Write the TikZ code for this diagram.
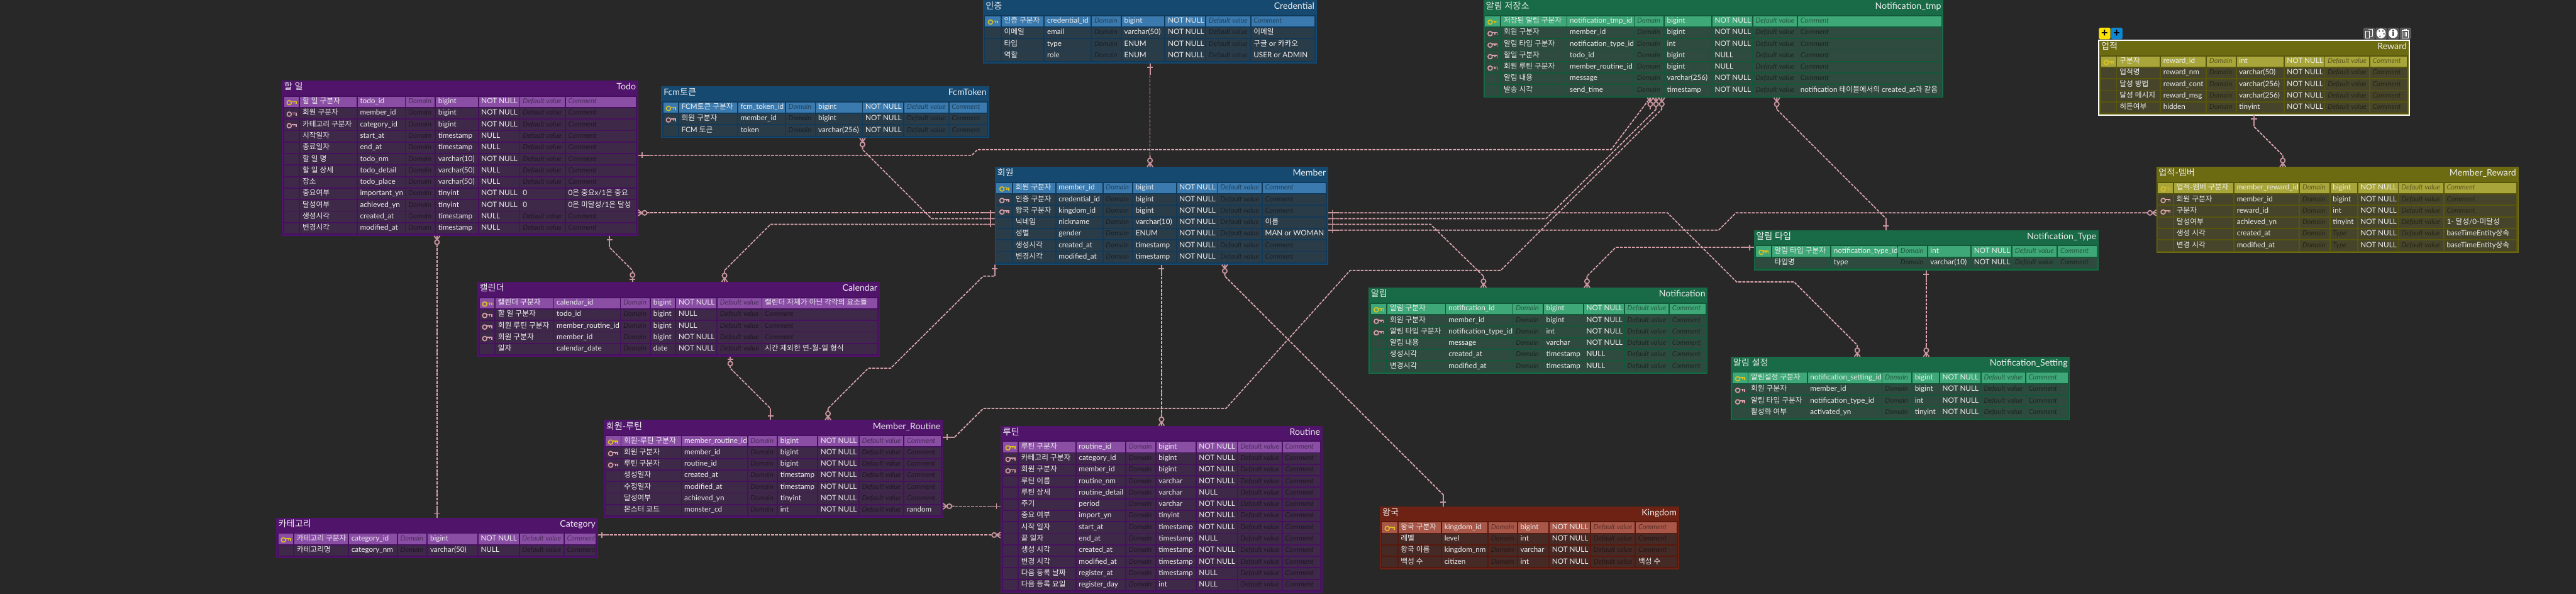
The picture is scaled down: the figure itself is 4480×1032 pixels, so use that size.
\documentclass[tikz,border=0pt]{standalone}
\usepackage{fontspec}
\setmainfont{Lato}
\newfontfamily\krfont{Noto Sans CJK KR}
\usetikzlibrary{calc}

% hangul goes to the CJK family
\XeTeXinterchartokenstate=1
\newXeTeXintercharclass\krclass
\newcount\krcode
\krcode="AC00
\loop
  \XeTeXcharclass\krcode=\krclass
  \advance\krcode 1
\ifnum\krcode<"D7A4 \repeat
\XeTeXinterchartoks 0 \krclass={\begingroup\krfont}
\XeTeXinterchartoks 4095 \krclass={\begingroup\krfont}
\XeTeXinterchartoks \krclass 0={\endgroup}
\XeTeXinterchartoks \krclass 4095={\endgroup}

\definecolor{bgdark}{HTML}{282828}
\definecolor{relpink}{HTML}{E2AAB4}
\definecolor{markpink}{HTML}{C8959F}
\definecolor{pkgold}{HTML}{DCC020}
\definecolor{fkpink}{HTML}{D8A0A8}
\definecolor{cellwhite}{HTML}{EEEEEE}

\definecolor{bluehd}{HTML}{154970}
\definecolor{bluegap}{HTML}{113A5A}
\definecolor{bluerow}{HTML}{2B3C49}
\definecolor{bluepk}{HTML}{3A7AAE}
\definecolor{purplehd}{HTML}{50146B}
\definecolor{purplegap}{HTML}{46105F}
\definecolor{purplerow}{HTML}{3E2948}
\definecolor{purplepk}{HTML}{8A4FA5}
\definecolor{greenhd}{HTML}{186B46}
\definecolor{greengap}{HTML}{125839}
\definecolor{greenrow}{HTML}{2F4A3E}
\definecolor{greenpk}{HTML}{3FA878}
\definecolor{olivehd}{HTML}{6D6B12}
\definecolor{olivegap}{HTML}{58560C}
\definecolor{oliverow}{HTML}{46452B}
\definecolor{olivepk}{HTML}{A8A53A}
\definecolor{redhd}{HTML}{6D2214}
\definecolor{redgap}{HTML}{58180C}
\definecolor{redrow}{HTML}{462A26}
\definecolor{redpk}{HTML}{A85748}

\tikzset{
  tablebox/.style={anchor=north west, inner sep=0pt, outer sep=0pt},
  titletext/.style={anchor=base west, inner sep=0pt, text=cellwhite, font=\fontsize{15.5}{18}\selectfont},
  celltext/.style={anchor=base west, inner sep=0pt, text=cellwhite, font=\fontsize{12.8}{16}\selectfont},
  holdtext/.style={anchor=base west, inner sep=0pt, text=black, text opacity=0.45, font=\fontsize{12.2}{16}\selectfont\itshape},
  relline/.style={draw=relpink, line width=1.8pt, dash pattern=on 5pt off 2pt},
  markline/.style={draw=markpink, line width=2pt, solid},
  iconbtn/.style={minimum width=20pt, minimum height=20pt, inner sep=0pt, rounded corners=2pt, anchor=north west},
  keyicon/.pic={
    \draw[line width=1.8pt, pic actions] (-4,0.5) circle[radius=3.8];
    \draw[line width=1.8pt, pic actions] (0,-1.5) -- (8,-1.5) -- (8,3) (4.5,-1.5) -- (4.5,2);
  },
  onemark/.pic={
    \draw[markline] (0,0) -- (20,0) (7,-5) -- (7,5);
  },
  manymark/.pic={
    \draw[markline] (0,-5) -- (7,0) -- (0,5) (0,0) -- (7,0) (15,0) -- (20,0);
    \draw[markline, fill=bgdark] (11,0) circle[radius=4];
  },
  zeromark/.pic={
    \draw[markline] (0,0) -- (7,0) (4.5,-5) -- (4.5,5) (16,0) -- (20,0);
    \draw[markline, fill=bgdark] (12,0) circle[radius=4];
  },
}

\def\dashmark{-}
\def\keyp{p}
\def\keyn{n}
\def\setcols#1,#2,#3,#4,#5,#6,#7,#8,#9;{\def\colA{#1}\def\colB{#2}\def\colC{#3}\def\colD{#4}\def\colE{#5}\def\colF{#6}\def\colG{#7}\def\colH{#8}\def\colI{#9}}
\newcommand{\cellnode}[4]{\ifx#3\dashmark\node[holdtext] (#1) at (#2) {#4};\else\node[celltext] (#1) at (#2) {#3};\fi}

% id, position, width, rows, colour, korean title, table name, column starts, rows
\newcommand{\erdtable}[9]{
  \begin{scope}[shift={(#2)}]
    \setcols#8;
    \node[tablebox, fill=#5hd, minimum width=#3pt, minimum height={(30+20*#4)*1pt}] (#1) at (0,0) {};
    \fill[#5gap] (2,26) rectangle (#3-2,{28+20*#4});
    \node[titletext] (#1-kr) at (4,16) {#6};
    \node[titletext, anchor=base east] (#1-en) at (#3-4,16) {#7};
    \foreach \ckey/\ckr/\cen/\ctype/\cnull/\cdef/\ccom [count=\r] in {#9} {
      \pgfmathsetmacro\ry{7+20*\r}
      \ifx\ckey\keyp\def\cellcol{#5pk}\else\def\cellcol{#5row}\fi
      \foreach \ca/\cb in {\colA/\colB,\colB/\colC,\colC/\colD,\colD/\colE,\colE/\colF,\colF/\colG,\colG/\colH,\colH/\colI}
        \fill[fill=\cellcol] (\ca,\ry+1) rectangle (\cb-2,\ry+19);
      \ifx\ckey\keyn\else
        \ifx\ckey\keyp\def\keycol{pkgold}\else\def\keycol{fkpink}\fi
        \pic[draw=\keycol] at ({(\colA+\colB-2)/2},\ry+11) {keyicon};
      \fi
      \node[celltext] (#1-\r-kr) at (\colB+4,\ry+13) {\ckr};
      \node[celltext] (#1-\r-en) at (\colC+4,\ry+13) {\cen};
      \node[holdtext] (#1-\r-dom) at (\colD+4,\ry+13) {Domain};
      \cellnode{#1-\r-type}{\colE+4,\ry+13}{\ctype}{Type}
      \node[celltext] (#1-\r-null) at (\colF+4,\ry+13) {\cnull};
      \cellnode{#1-\r-def}{\colG+4,\ry+13}{\cdef}{Default value}
      \cellnode{#1-\r-com}{\colH+4,\ry+13}{\ccom}{Comment}
    }
  \end{scope}
}

\begin{document}
\begin{tikzpicture}[x=1pt,y=-1pt]
  \useasboundingbox (0,0) rectangle (4480,1032);
  \fill[bgdark] (0,0) rectangle (4480,1032);

  \erdtable{credential}{1710,0}{580}{4}{blue}{인증}{Credential}{3,32,107,189,241,317,388,466,578}{
    p/인증 구분자/credential\_id/bigint/NOT NULL/-/-,
    n/이메일/email/varchar(50)/NOT NULL/-/이메일,
    n/타입/type/ENUM/NOT NULL/-/구글 or 카카오,
    n/역할/role/ENUM/NOT NULL/-/USER or ADMIN}

  \erdtable{member}{1730,290}{580}{7}{blue}{회원}{Member}{3,32,107,189,241,317,388,466,578}{
    p/회원 구분자/member\_id/bigint/NOT NULL/-/-,
    f/인증 구분자/credential\_id/bigint/NOT NULL/-/-,
    f/왕국 구분자/kingdom\_id/bigint/NOT NULL/-/-,
    n/닉네임/nickname/varchar(10)/NOT NULL/-/이름,
    n/성별/gender/ENUM/NOT NULL/-/MAN or WOMAN,
    n/생성시각/created\_at/timestamp/NOT NULL/-/-,
    n/변경시각/modified\_at/timestamp/NOT NULL/-/-}

  \erdtable{fcmtoken}{1150,150}{570}{3}{blue}{Fcm토큰}{FcmToken}{4,31,134,217,269,351,423,501,568}{
    p/FCM토큰 구분자/fcm\_token\_id/bigint/NOT NULL/-/-,
    f/회원 구분자/member\_id/bigint/NOT NULL/-/-,
    n/FCM 토큰/token/varchar(256)/NOT NULL/-/-}

  \erdtable{todo}{490,140}{620}{12}{purple}{할 일}{Todo}{4,32,132,216,268,343,415,494,618}{
    p/할 일 구분자/todo\_id/bigint/NOT NULL/-/-,
    f/회원 구분자/member\_id/bigint/NOT NULL/-/-,
    f/카테고리 구분자/category\_id/bigint/NOT NULL/-/-,
    n/시작일자/start\_at/timestamp/NULL/-/-,
    n/종료일자/end\_at/timestamp/NULL/-/-,
    n/할 일 명/todo\_nm/varchar(10)/NOT NULL/-/-,
    n/할 일 상세/todo\_detail/varchar(50)/NULL/-/-,
    n/장소/todo\_place/varchar(50)/NULL/-/-,
    n/중요여부/important\_yn/tinyint/NOT NULL/0/{0은 중요x/1은 중요},
    n/달성여부/achieved\_yn/tinyint/NOT NULL/0/{0은 미달성/1은 달성},
    n/생성시각/created\_at/timestamp/NULL/-/-,
    n/변경시각/modified\_at/timestamp/NULL/-/-}

  \erdtable{calendar}{830,490}{700}{5}{purple}{캘린더}{Calendar}{4,32,134,250,302,346,418,496,698}{
    p/캘린더 구분자/calendar\_id/bigint/NOT NULL/-/캘린더 자체가 아닌 각각의 요소들,
    f/할 일 구분자/todo\_id/bigint/NULL/-/-,
    f/회원 루틴 구분자/member\_routine\_id/bigint/NULL/-/-,
    f/회원 구분자/member\_id/bigint/NOT NULL/-/-,
    n/일자/calendar\_date/date/NOT NULL/-/시간 제외한 연-월-일 형식}

  \erdtable{memberroutine}{1050,730}{590}{7}{purple}{회원-루틴}{Member\_Routine}{3,31,136,251,303,373,445,523,588}{
    p/회원-루틴 구분자/member\_routine\_id/bigint/NOT NULL/-/-,
    f/회원 구분자/member\_id/bigint/NOT NULL/-/-,
    f/루틴 구분자/routine\_id/bigint/NOT NULL/-/-,
    n/생성일자/created\_at/timestamp/NOT NULL/-/-,
    n/수정일자/modified\_at/timestamp/NOT NULL/-/-,
    n/달성여부/achieved\_yn/tinyint/NOT NULL/-/-,
    n/몬스터 코드/monster\_cd/int/NOT NULL/-/random}

  \erdtable{category}{480,900}{560}{2}{purple}{카테고리}{Category}{4,32,127,212,264,352,424,502,558}{
    p/카테고리 구분자/category\_id/bigint/NOT NULL/-/-,
    n/카테고리명/category\_nm/varchar(50)/NULL/-/-}

  \erdtable{routine}{1740,740}{560}{13}{purple}{루틴}{Routine}{4,32,132,219,271,341,413,491,558}{
    p/루틴 구분자/routine\_id/bigint/NOT NULL/-/-,
    f/카테고리 구분자/category\_id/bigint/NOT NULL/-/-,
    f/회원 구분자/member\_id/bigint/NOT NULL/-/-,
    n/루틴 이름/routine\_nm/varchar/NOT NULL/-/-,
    n/루틴 상세/routine\_detail/varchar/NULL/-/-,
    n/주기/period/varchar/NOT NULL/-/-,
    n/중요 여부/import\_yn/tinyint/NOT NULL/-/-,
    n/시작 일자/start\_at/timestamp/NOT NULL/-/-,
    n/끝 일자/end\_at/timestamp/NULL/-/-,
    n/생성 시각/created\_at/timestamp/NOT NULL/-/-,
    n/변경 시각/modified\_at/timestamp/NOT NULL/-/-,
    n/다음 등록 날짜/register\_at/timestamp/NULL/-/-,
    n/다음 등록 요일/register\_day/int/NULL/-/-}

  \erdtable{kingdom}{2400,880}{520}{4}{red}{왕국}{Kingdom}{3,32,108,189,240,295,367,445,518}{
    p/왕국 구분자/kingdom\_id/bigint/NOT NULL/-/-,
    n/레벨/level/int/NOT NULL/-/-,
    n/왕국 이름/kingdom\_nm/varchar/NOT NULL/-/-,
    n/백성 수/citizen/int/NOT NULL/-/백성 수}

  \erdtable{notiftmp}{2580,0}{800}{7}{green}{알림 저장소}{Notification\_tmp}{2,31,146,263,315,398,469,547,798}{
    p/저장된 알림 구분자/notification\_tmp\_id/bigint/NOT NULL/-/-,
    f/회원 구분자/member\_id/bigint/NOT NULL/-/-,
    f/알림 타입 구분자/notification\_type\_id/int/NOT NULL/-/-,
    f/할일 구분자/todo\_id/bigint/NULL/-/-,
    f/회원 루틴 구분자/member\_routine\_id/bigint/NULL/-/-,
    n/알림 내용/message/varchar(256)/NOT NULL/-/-,
    n/발송 시각/send\_time/timestamp/NOT NULL/-/notification 테이블에서의 created\_at과 같음}

  \erdtable{notif}{2380,500}{590}{6}{green}{알림}{Notification}{4,33,135,252,305,375,446,524,588}{
    p/알림 구분자/notification\_id/bigint/NOT NULL/-/-,
    f/회원 구분자/member\_id/bigint/NOT NULL/-/-,
    f/알림 타입 구분자/notification\_type\_id/int/NOT NULL/-/-,
    n/알림 내용/message/varchar/NOT NULL/-/-,
    n/생성시각/created\_at/timestamp/NULL/-/-,
    n/변경시각/modified\_at/timestamp/NULL/-/-}

  \erdtable{notiftype}{3050,400}{600}{2}{green}{알림 타입}{Notification\_Type}{4,32,135,251,303,379,450,529,598}{
    p/알림 타입 구분자/notification\_type\_id/int/NOT NULL/-/-,
    n/타입명/type/varchar(10)/NOT NULL/-/-}

  \erdtable{notifset}{3010,620}{590}{4}{green}{알림 설정}{Notification\_Setting}{3,31,134,264,316,364,436,514,588}{
    p/알림설정 구분자/notification\_setting\_id/bigint/NOT NULL/-/-,
    f/회원 구분자/member\_id/bigint/NOT NULL/-/-,
    f/알림 타입 구분자/notification\_type\_id/int/NOT NULL/-/-,
    n/활성화 여부/activated\_yn/tinyint/NOT NULL/-/-}

  \erdtable{reward}{3650,70}{540}{5}{olive}{업적}{Reward}{4,32,108,188,240,323,394,472,538}{
    p/구분자/reward\_id/int/NOT NULL/-/-,
    n/업적명/reward\_nm/varchar(50)/NOT NULL/-/-,
    n/달성 방법/reward\_cont/varchar(256)/NOT NULL/-/-,
    n/달성 메시지/reward\_msg/varchar(256)/NOT NULL/-/-,
    n/히든여부/hidden/tinyint/NOT NULL/-/-}

  \erdtable{memberreward}{3750,290}{630}{6}{olive}{업적-멤버}{Member\_Reward}{3,31,136,250,303,351,422,501,628}{
    p/업적-멤버 구분자/member\_reward\_id/bigint/NOT NULL/-/-,
    f/회원 구분자/member\_id/bigint/NOT NULL/-/-,
    f/구분자/reward\_id/int/NOT NULL/-/-,
    n/달성여부/achieved\_yn/tinyint/NOT NULL/-/1- 달성{/}0-미달성,
    n/생성 시각/created\_at/-/NOT NULL/-/baseTimeEntity상속,
    n/변경 시각/modified\_at/-/NOT NULL/-/baseTimeEntity상속}

  % selected table
  \draw[white, line width=2.4pt] (reward.north west) rectangle (reward.south east);
  \node[iconbtn, fill=yellow!85!orange, font=\bfseries\fontsize{20}{20}\selectfont] (btnkey) at (3650,48) {+};
  \node[iconbtn, fill=cyan!70!blue, font=\bfseries\fontsize{20}{20}\selectfont] (btnrow) at (3671,48) {+};
  \node[iconbtn, fill=black!65] (btncopy) at (4110,48) {};
  \node[iconbtn, fill=black!65] (btncolor) at (4131,48) {};
  \node[iconbtn, fill=black!65] (btninfo) at (4152,48) {};
  \node[iconbtn, fill=black!65] (btntrash) at (4173,48) {};
  \draw[white, line width=1.2pt] (4114,54) rectangle (4121,66) (4119,51) -- (4126,51) -- (4126,63) -- (4122,63);
  \fill[white] (4141,58) ellipse[x radius=8, y radius=8.5];
  \fill[black!65] (4138,54) circle[radius=1.5] (4144,54) circle[radius=1.5] (4139,63) circle[radius=1.5] (4146,59) circle[radius=1.5];
  \fill[white] (4162,58) circle[radius=8];
  \node[inner sep=0pt, text=black, font=\bfseries\fontsize{14}{14}\selectfont] (btninfotext) at (4162,58) {i};
  \draw[white, line width=1.2pt] (4177,53) -- (4189,53) (4181,53) -- (4181,51) -- (4185,51) -- (4185,53) (4178,53) rectangle (4188,66) (4181,56) -- (4181,63) (4183,56) -- (4183,63) (4185,56) -- (4185,63);

  % relations
  \draw[relline] ([xshift=290pt]credential.south west) pic[rotate=-90]{onemark} -- ([xshift=270pt]member.north west) pic[rotate=90]{manymark};
  \draw[relline] ([yshift=-130pt]todo.north east) pic{onemark} -- (1690,270) -- (1700,260) -- (2802,260) -- ([xshift=290pt]notiftmp.south west) pic[rotate=-90]{manymark};
  \draw[relline] ([xshift=350pt]fcmtoken.south west) pic[rotate=-90]{manymark} -- (1500,260) -- (1620,380) -- ([yshift=-90pt]member.north west) pic[rotate=180]{onemark};
  \draw[relline] ([yshift=-230pt]todo.north east) pic{manymark} -- ([yshift=-80pt]member.north west) pic[rotate=180]{onemark};
  \draw[relline] ([xshift=430pt]calendar.north west) pic[rotate=90]{manymark} -- (1260,470) -- (1340,390) -- ([yshift=-100pt]member.north west) pic[rotate=180]{onemark};
  \draw[relline] ([xshift=570pt]todo.south west) pic[rotate=-90]{onemark} -- (1060,430) -- (1100,470) -- ([xshift=270pt]calendar.north west) pic[rotate=90]{zeromark};
  \draw[relline] ([xshift=270pt]todo.south west) pic[rotate=-90]{manymark} -- ([xshift=280pt]category.north west) pic[rotate=90]{onemark};
  \draw[relline] ([xshift=440pt]calendar.south west) pic[rotate=-90]{zeromark} -- (1270,640) -- (1340,710) -- ([xshift=290pt]memberroutine.north west) pic[rotate=90]{onemark};
  \draw[relline] ([xshift=390pt]memberroutine.north west) pic[rotate=90]{manymark} -- (1440,710) -- (1510,640) -- (1549,640) -- (1710,480) -- (1730,480) -- (member.south west) pic[rotate=-90]{onemark};
  \draw[relline] ([yshift=-30pt]memberroutine.north east) pic{onemark} -- (1660,760) -- (1710,710) -- (2132,710) -- (2348,470) -- (2610,470) -- (2890,190) -- ([xshift=310pt]notiftmp.south west) pic[rotate=-90]{manymark};
  \draw[relline] ([yshift=-150pt]memberroutine.north east) pic{manymark} -- ([yshift=-140pt]routine.north west) pic[rotate=180]{onemark};
  \draw[relline] ([yshift=-30pt]category.north east) pic{onemark} -- ([yshift=-190pt]routine.north west) pic[rotate=180]{manymark};
  \draw[relline] ([xshift=290pt]member.south west) pic[rotate=-90]{onemark} -- ([xshift=280pt]routine.north west) pic[rotate=90]{manymark};
  \draw[relline] ([xshift=400pt]member.south west) pic[rotate=-90]{manymark} -- (2130,480) -- (2510,860) -- ([xshift=110pt]kingdom.north west) pic[rotate=90]{onemark};
  \draw[relline] ([yshift=-90pt]member.north east) pic{onemark} -- (2689,380) -- (2880,190) -- ([xshift=300pt]notiftmp.south west) pic[rotate=-90]{manymark};
  \draw[relline] ([yshift=-100pt]member.north east) pic{onemark} -- (2488,390) -- (2580,480) -- ([xshift=200pt]notif.north west) pic[rotate=90]{manymark};
  \draw[relline] ([yshift=-80pt]member.north east) pic{onemark} -- (2900,370) -- (3020,490) -- (3120,490) -- (3230,600) -- ([xshift=220pt]notifset.north west) pic[rotate=90]{manymark};
  \draw[relline] ([yshift=-110pt]member.north east) pic{onemark} -- (2989,400) -- (3019,370) -- ([yshift=-80pt]memberreward.north west) pic[rotate=180]{manymark};
  \draw[relline] ([xshift=270pt]reward.south west) pic[rotate=-90]{onemark} -- (3920,220) -- (3970,270) -- ([xshift=220pt]memberreward.north west) pic[rotate=90]{manymark};
  \draw[relline] ([xshift=510pt]notiftmp.south west) pic[rotate=-90]{manymark} -- (3090,190) -- (3280,380) -- ([xshift=230pt]notiftype.north west) pic[rotate=90]{onemark};
  \draw[relline] ([xshift=380pt]notif.north west) pic[rotate=90]{manymark} -- (2760,480) -- (2810,430) -- ([yshift=-30pt]notiftype.north west) pic[rotate=180]{onemark};
  \draw[relline] ([xshift=300pt]notiftype.south west) pic[rotate=-90]{onemark} -- ([xshift=340pt]notifset.north west) pic[rotate=90]{manymark};
\end{tikzpicture}
\end{document}
